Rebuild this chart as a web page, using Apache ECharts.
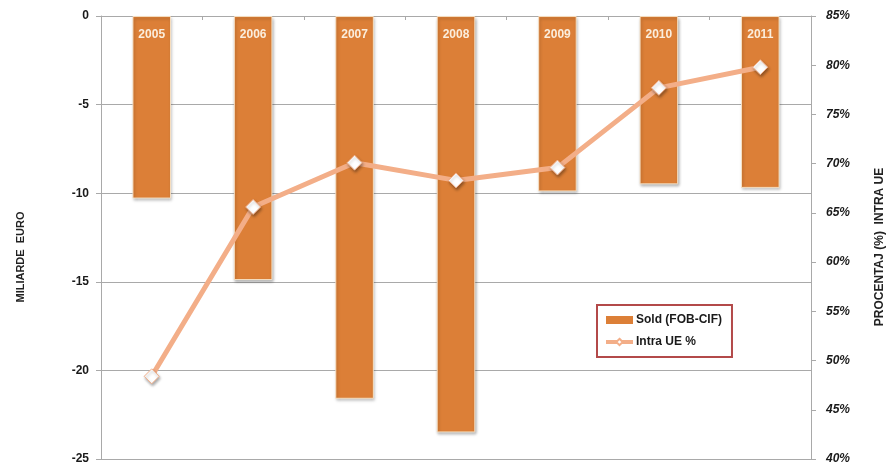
<!DOCTYPE html>
<html>
<head>
<meta charset="utf-8">
<script src="https://cdn.jsdelivr.net/npm/echarts@6/dist/echarts.min.js"></script>
<style>
  html, body { margin: 0; padding: 0; background: #fff; }
  #chart { width: 890px; height: 467px; }
</style>
</head>
<body>
<div id="chart"></div>
<script>
// Trade balance (FOB-CIF) and share of intra-EU trade, 2005-2011
const years = ['2005', '2006', '2007', '2008', '2009', '2010', '2011'];
const balance = [-10.3, -14.9, -21.6, -23.5, -9.9, -9.5, -9.7];      // miliarde euro
const intraShare = [48.4, 65.6, 70.1, 68.3, 69.6, 77.7, 79.8];       // %
const leftAxisTitle = 'MILIARDE  EURO';
const rightAxisTitle = 'PROCENTAJ (%)  INTRA UE';

const FONT = '"Liberation Sans", Arial, sans-serif';
const GRID = '#a9a9a9';
const BAR = '#dc7f37';
const LINE = '#f3ae88';

const chart = echarts.init(document.getElementById('chart'));
chart.setOption({
  animation: false,
  textStyle: { fontFamily: FONT },
  grid: { left: 101, right: 79, top: 16, bottom: 8 },
  // rotated axis titles
  graphic: [
    {
      type: 'text',
      x: 21, y: 257,
      rotation: Math.PI / 2,
      style: {
        text: leftAxisTitle,
        font: 'bold 11px ' + FONT,
        fill: '#222',
        align: 'center',
        verticalAlign: 'middle'
      }
    },
    {
      type: 'text',
      x: 880, y: 247,
      rotation: Math.PI / 2,
      style: {
        text: rightAxisTitle,
        font: 'bold 12px ' + FONT,
        fill: '#222',
        align: 'center',
        verticalAlign: 'middle'
      }
    }
  ],
  legend: {
    left: 597,
    top: 305,
    orient: 'vertical',
    itemGap: 10,
    itemWidth: 27,
    itemHeight: 8,
    padding: [9, 10, 9, 7],
    borderColor: '#b34a4a',
    borderWidth: 2,
    backgroundColor: '#fff',
    textStyle: { fontFamily: FONT, fontSize: 12, fontWeight: 'bold', color: '#1a1a1a', padding: [0, 0, 0, -2] },
    data: [
      { name: 'Sold (FOB-CIF)', icon: 'rect', itemStyle: { borderWidth: 0, shadowBlur: 0, shadowOffsetX: 0, shadowOffsetY: 0 } },
      { name: 'Intra UE %', lineStyle: { width: 4, color: LINE } }
    ]
  },
  xAxis: {
    type: 'category',
    data: years,
    position: 'top',
    axisLine: { show: true, lineStyle: { color: GRID, width: 1 } },
    axisTick: { show: true, inside: true, length: 4, lineStyle: { color: GRID } },
    axisLabel: { show: false },
    splitLine: { show: false }
  },
  yAxis: [
    {
      type: 'value',
      min: -25,
      max: 0,
      interval: 5,
      axisLine: { show: true, lineStyle: { color: GRID } },
      axisTick: { show: true, length: 5, lineStyle: { color: GRID } },
      axisLabel: { fontFamily: FONT, fontSize: 12, fontWeight: 'bold', color: '#1a1a1a', margin: 12 },
      splitLine: { show: true, lineStyle: { color: GRID, width: 1 } }
    },
    {
      type: 'value',
      min: 40,
      max: 85,
      interval: 5,
      position: 'right',
      axisLine: { show: true, lineStyle: { color: GRID } },
      axisTick: { show: true, length: 5, lineStyle: { color: GRID } },
      axisLabel: {
        formatter: '{value}%',
        fontFamily: FONT, fontSize: 12, fontWeight: 'bold', fontStyle: 'italic',
        color: '#1a1a1a', margin: 15
      },
      splitLine: { show: false }
    }
  ],
  series: [
    {
      name: 'Sold (FOB-CIF)',
      type: 'bar',
      yAxisIndex: 0,
      data: balance,
      barWidth: '38%',
      itemStyle: {
        color: BAR,
        borderColor: 'rgba(250,228,200,0.9)',
        borderWidth: 1,
        shadowColor: 'rgba(0,0,0,0.3)',
        shadowBlur: 3,
        shadowOffsetX: 1,
        shadowOffsetY: 2
      },
      label: {
        show: true,
        position: 'insideTop',
        distance: 13,
        formatter: (p) => p.name,
        fontFamily: FONT,
        fontSize: 12,
        fontWeight: 'bold',
        color: '#fbeedd'
      },
      z: 2
    },
    {
      name: 'Intra UE %',
      type: 'line',
      yAxisIndex: 1,
      data: intraShare,
      symbol: 'diamond',
      symbolSize: 15,
      lineStyle: { color: LINE, width: 5 },
      itemStyle: {
        color: '#ffffff',
        borderColor: LINE,
        borderWidth: 1,
        shadowColor: 'rgba(0,0,0,0.35)',
        shadowBlur: 3,
        shadowOffsetX: 1,
        shadowOffsetY: 2
      },
      z: 3
    }
  ]
});
</script>
</body>
</html>
